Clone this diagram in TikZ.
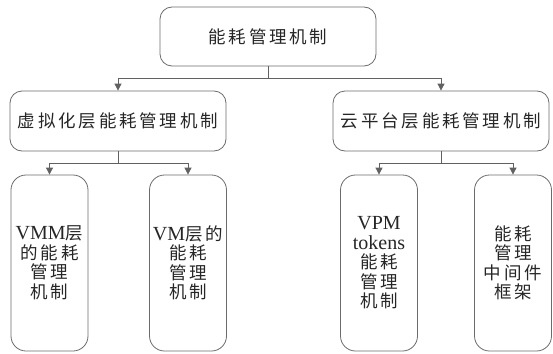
\documentclass[tikz,border=0pt]{standalone}
\usepackage{fontspec}
\setmainfont{Liberation Serif}
\newfontfamily\cjk[LetterSpace=16]{Noto Sans CJK SC}
\usetikzlibrary{arrows.meta}
\newcommand\lat[1]{{\fontsize{20}{19.5}\selectfont\rmfamily #1}}
\newcommand\boxfont{\fontsize{17.5}{19.5}\selectfont\cjk\setlength{\lineskiplimit}{-10pt}}
\tikzset{
  box/.style={draw=black!58, line width=0.8pt, rectangle, rounded corners=12pt,
    inner sep=0pt, align=center, text=black!85, font=\boxfont},
  topbox/.style={box, minimum width=216pt, minimum height=59pt},
  midbox/.style={box, minimum width=216pt, minimum height=60pt},
  leafbox/.style={box, rounded corners=15pt, minimum width=77pt, minimum height=176pt},
  conn/.style={draw=black!62, line width=0.8pt, -{Triangle[width=7pt,length=7pt]}}
}
\begin{document}
\begin{tikzpicture}[x=1pt,y=-1pt]
\useasboundingbox (0,0) rectangle (553,353);
\node[topbox] (top) at (268,36.5) {能耗管理机制};
\node[midbox] (va) at (118,121) {虚拟化层能耗管理机制};
\node[midbox] (cb) at (441,121) {云平台层能耗管理机制};
\node[leafbox] (l1) at (49.5,263) {\lat{VMM}层\\的能耗\\管理\\机制};
\node[leafbox] (l2) at (188,263) {\lat{VM}层的\\能耗\\管理\\机制};
\node[leafbox] (l3) at (379,263) {\lat{VPM}\\\lat{tokens}\\能耗\\管理\\机制};
\node[leafbox] (l4) at (513,263) {能耗\\管理\\中间件\\框架};
\coordinate (j0) at (268,78);
\coordinate (j1) at (118,163);
\coordinate (j2) at (441,163);
\draw[conn] (top.south) -- (j0) -| (va.north);
\draw[conn] (j0) -| (cb.north);
\draw[conn] (va.south) -- (j1) -| (l1.north);
\draw[conn] (j1) -| (l2.north);
\draw[conn] (cb.south) -- (j2) -| (l3.north);
\draw[conn] (j2) -| (l4.north);
\end{tikzpicture}
\end{document}
